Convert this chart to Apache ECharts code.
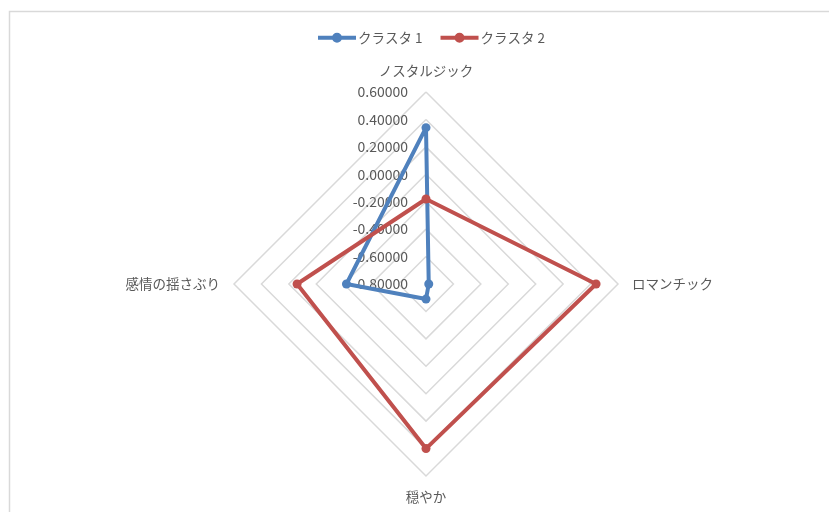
<!DOCTYPE html>
<html>
<head>
<meta charset="utf-8">
<script src="https://cdn.jsdelivr.net/npm/echarts@6/dist/echarts.min.js"></script>
<style>
  html, body { margin: 0; padding: 0; background: #fff; }
  #chart { width: 829px; height: 512px; }
</style>
</head>
<body>
<div id="chart"></div>
<script>
// radar goes counter-clockwise from the top: top, left, bottom, right
const indicators = ["ノスタルジック", "感情の揺さぶり", "穏やか", "ロマンチック"];
const seriesNames = ["クラスタ 1", "クラスタ 2"];
const cluster1 = [0.34, -0.22, -0.69, -0.78];
const cluster2 = [-0.18, 0.14, 0.40, 0.44];
const axisMin = -0.8;
const axisMax = 0.6;

const COLORS = ["#4F81BD", "#C0504D"];
const FONT = "'Noto Sans CJK JP', sans-serif";
// line with a dot in the middle, like the Excel legend key
const LEGEND_ICON = "path://M0,3 L38,3 L38,7 L0,7 Z M14,5 A5,5 0 1,1 24,5 A5,5 0 1,1 14,5 Z";

const chart = echarts.init(document.getElementById("chart"));

const options = {
  animation: false,
  color: COLORS,
  textStyle: { fontFamily: FONT },
  graphic: [
    {
      type: "rect",
      shape: { x: 9.5, y: 11.5, width: 900, height: 600 },
      style: { fill: "none", stroke: "#D9D9D9", lineWidth: 1.5 },
      silent: true,
    },
  ],
  legend: {
    top: 26,
    left: 313,
    itemWidth: 38,
    itemHeight: 10,
    itemGap: 18,
    icon: LEGEND_ICON,
    textStyle: { color: "#595959", fontSize: 13.5, fontFamily: FONT, padding: [0, 0, 0, -3] },
    data: seriesNames,
  },
  radar: {
    center: [426, 284],
    radius: 192,
    startAngle: 90,
    shape: "polygon",
    splitNumber: 7,
    nameGap: 14,
    axisName: { color: "#595959", fontSize: 13.5, fontFamily: FONT },
    axisLine: { show: false },
    axisTick: { show: false },
    splitArea: { show: false },
    splitLine: { lineStyle: { color: "#D9D9D9", width: 1.5 } },
    axisLabel: { show: false },
    indicator: indicators.map((name, i) => ({
      name: name,
      min: axisMin,
      max: axisMax,
      // only the first (top) axis carries the value labels
      axisLabel: i === 0
        ? {
            show: true,
            color: "#595959",
            fontSize: 14,
            fontFamily: FONT,
            margin: 18,
            showMinLabel: true,
            showMaxLabel: true,
            formatter: (v) => (Math.abs(v) < 1e-9 ? 0 : v).toFixed(5),
          }
        : { show: false },
    })),
  },
  series: [
    {
      type: "radar",
      symbol: "circle",
      symbolSize: 9,
      lineStyle: { width: 4 },
      data: [
        { name: seriesNames[0], value: cluster1 },
        { name: seriesNames[1], value: cluster2 },
      ],
    },
  ],
};

chart.setOption(options);
</script>
</body>
</html>
